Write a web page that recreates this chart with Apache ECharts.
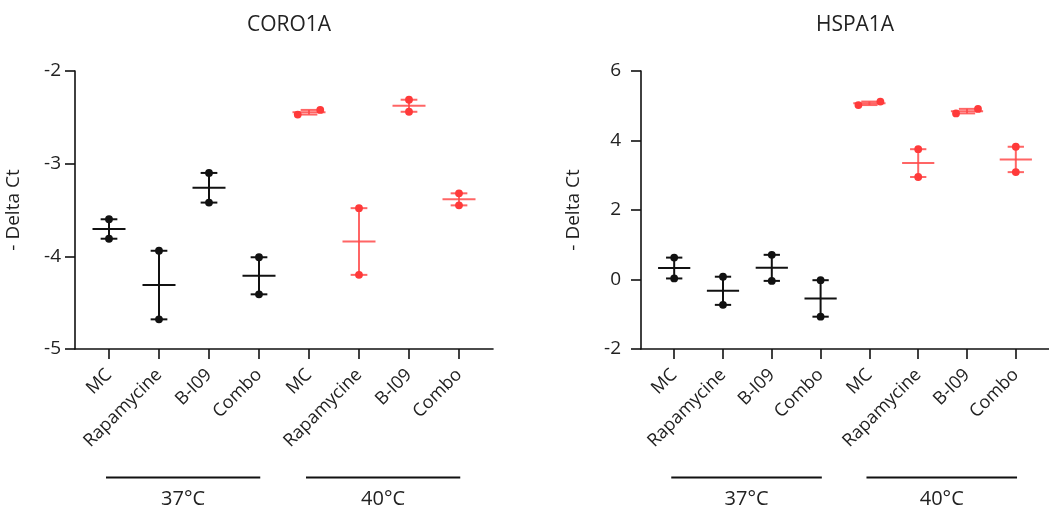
<!DOCTYPE html>
<html>
<head>
<meta charset="utf-8">
<script src="https://cdn.jsdelivr.net/npm/echarts@6/dist/echarts.min.js"></script>
<style>
html,body{margin:0;padding:0;background:#fff;}
#c{width:1049px;height:509px;}
</style>
</head>
<body>
<div id="c"></div>
<script>
// ---- data ----
const categories = ['MC', 'Rapamycine', 'B-I09', 'Combo', 'MC', 'Rapamycine', 'B-I09', 'Combo'];
const groupLabels = ['37°C', '40°C'];
const groupStart = [0, 4];
const groupEnd = [3, 7];
const titles = ['CORO1A', 'HSPA1A'];
const yAxisName = '- Delta Ct';
const coroTicks = [-5, -4, -3, -2];
const hspaTicks = [-2, 0, 2, 4, 6];
const coroRep1 = [-3.60, -3.94, -3.10, -4.01, -2.47, -3.48, -2.31, -3.32];
const coroRep2 = [-3.81, -4.68, -3.42, -4.41, -2.42, -4.20, -2.44, -3.45];
const hspaRep1 = [0.63, 0.08, 0.71, -0.02, 5.02, 3.75, 4.78, 3.82];
const hspaRep2 = [0.03, -0.73, -0.04, -1.07, 5.12, 2.95, 4.91, 3.09];

// ---- style ----
const FONT = 'Open Sans';
const BLACK = '#111';
const RED = '#ff3a3a';
const RED_LINE = '#ff4a4a';
const TXT = '#222';

const chart = echarts.init(document.getElementById('c'), null, {renderer: 'canvas'});

function pairData(r1, r2) {
  return categories.map((c, i) => [i, r1[i], r2[i]]);
}

function renderPair(params, api) {
  const i = api.value(0), a = api.value(1), b = api.value(2);
  const lo = Math.min(a, b), hi = Math.max(a, b);
  const mean = (a + b) / 2;
  const isRed = i >= 4;
  const lineColor = isRed ? RED_LINE : BLACK;
  const dotColor = isRed ? RED : BLACK;
  const pLo = api.coord([i, lo]);
  const pHi = api.coord([i, hi]);
  const pM = api.coord([i, mean]);
  const cx = pM[0];
  const halfMean = api.coord([i + 0.33, mean])[0] - cx;
  const halfCap = api.coord([i + 0.167, mean])[0] - cx;
  let dx = 0;
  if (Math.abs(pLo[1] - pHi[1]) < 8) dx = api.coord([i + 0.225, mean])[0] - cx;
  const ls = {stroke: lineColor, lineWidth: 2, opacity: isRed ? 0.85 : 1};
  const children = [
    {type: 'line', shape: {x1: cx, y1: pLo[1], x2: cx, y2: pHi[1]}, style: ls},
    {type: 'line', shape: {x1: cx - halfCap, y1: pLo[1], x2: cx + halfCap, y2: pLo[1]}, style: ls},
    {type: 'line', shape: {x1: cx - halfCap, y1: pHi[1], x2: cx + halfCap, y2: pHi[1]}, style: ls},
    {type: 'line', shape: {x1: cx - halfMean, y1: pM[1], x2: cx + halfMean, y2: pM[1]}, style: ls},
    {type: 'circle', shape: {cx: cx - dx, cy: pLo[1], r: 3.9}, style: {fill: dotColor}},
    {type: 'circle', shape: {cx: cx + dx, cy: pHi[1], r: 3.9}, style: {fill: dotColor}}
  ];
  return {type: 'group', children};
}

function renderGroup(params, api) {
  const s = api.value(0), e = api.value(1);
  const idx = params.dataIndex;
  const cs = params.coordSys;
  const bottom = cs.y + cs.height;
  const x1 = api.coord([s - 0.06, 0])[0];
  const x2 = api.coord([e + 0.025, 0])[0];
  const y = bottom + 128.5;
  return {
    type: 'group',
    children: [
      {type: 'line', shape: {x1, y1: y, x2, y2: y}, style: {stroke: BLACK, lineWidth: 2}},
      {type: 'text', x: (x1 + x2) / 2, y: bottom + 150,
       style: {text: groupLabels[idx], fill: TXT, font: '20px "' + FONT + '"', align: 'center', verticalAlign: 'middle'}}
    ]
  };
}

function xAxisCfg(gi) {
  return {
    type: 'value', gridIndex: gi, min: -0.68, max: 7.68,
    splitLine: {show: false},
    axisLine: {show: true, onZero: false, lineStyle: {color: BLACK, width: 1.6}},
    axisTick: {show: true, length: 10, lineStyle: {color: BLACK, width: 1.6}, customValues: categories.map((c, i) => i)},
    axisLabel: {show: true, rotate: 45, margin: 23, color: TXT, fontSize: 18, fontFamily: FONT,
      customValues: categories.map((c, i) => i),
      formatter: v => categories[Math.round(v)]}
  };
}

function yAxisCfg(gi, ticks, gap, margin) {
  return {
    type: 'value', gridIndex: gi, min: ticks[0], max: ticks[ticks.length - 1],
    interval: ticks[1] - ticks[0],
    name: yAxisName, nameLocation: 'middle', nameGap: gap,
    nameTextStyle: {fontSize: 19, color: TXT, fontFamily: FONT},
    splitLine: {show: false},
    axisLine: {show: true, onZero: false, lineStyle: {color: BLACK, width: 1.6}},
    axisTick: {show: true, length: 10, lineStyle: {color: BLACK, width: 1.6}},
    axisLabel: {margin: margin, color: TXT, fontSize: 19, fontFamily: FONT,
      formatter: v => String(v)}
  };
}

chart.setOption({
  animation: false,
  backgroundColor: '#fff',
  title: [
    {text: titles[0], left: 284, top: 10, textAlign: 'center',
     textStyle: {fontSize: 21, fontWeight: 'normal', color: TXT, fontFamily: FONT}},
    {text: titles[1], left: 850, top: 10, textAlign: 'center',
     textStyle: {fontSize: 21, fontWeight: 'normal', color: TXT, fontFamily: FONT}}
  ],
  grid: [
    {left: 75, top: 71, width: 418, height: 278},
    {left: 641, top: 71, width: 419, height: 278}
  ],
  xAxis: [xAxisCfg(0), xAxisCfg(1)],
  yAxis: [yAxisCfg(0, coroTicks, 52, 14), yAxisCfg(1, hspaTicks, 58, 20)],
  series: [
    {type: 'custom', xAxisIndex: 0, yAxisIndex: 0, clip: false, renderItem: renderPair,
     encode: {x: 0, y: [1, 2]}, data: pairData(coroRep1, coroRep2)},
    {type: 'custom', xAxisIndex: 1, yAxisIndex: 1, clip: false, renderItem: renderPair,
     encode: {x: 0, y: [1, 2]}, data: pairData(hspaRep1, hspaRep2)},
    {type: 'custom', xAxisIndex: 0, yAxisIndex: 0, clip: false, renderItem: renderGroup, silent: true,
     encode: {x: [0, 1]}, data: groupStart.map((s, i) => [s, groupEnd[i]])},
    {type: 'custom', xAxisIndex: 1, yAxisIndex: 1, clip: false, renderItem: renderGroup, silent: true,
     encode: {x: [0, 1]}, data: groupStart.map((s, i) => [s, groupEnd[i]])}
  ]
});
</script>
</body>
</html>
